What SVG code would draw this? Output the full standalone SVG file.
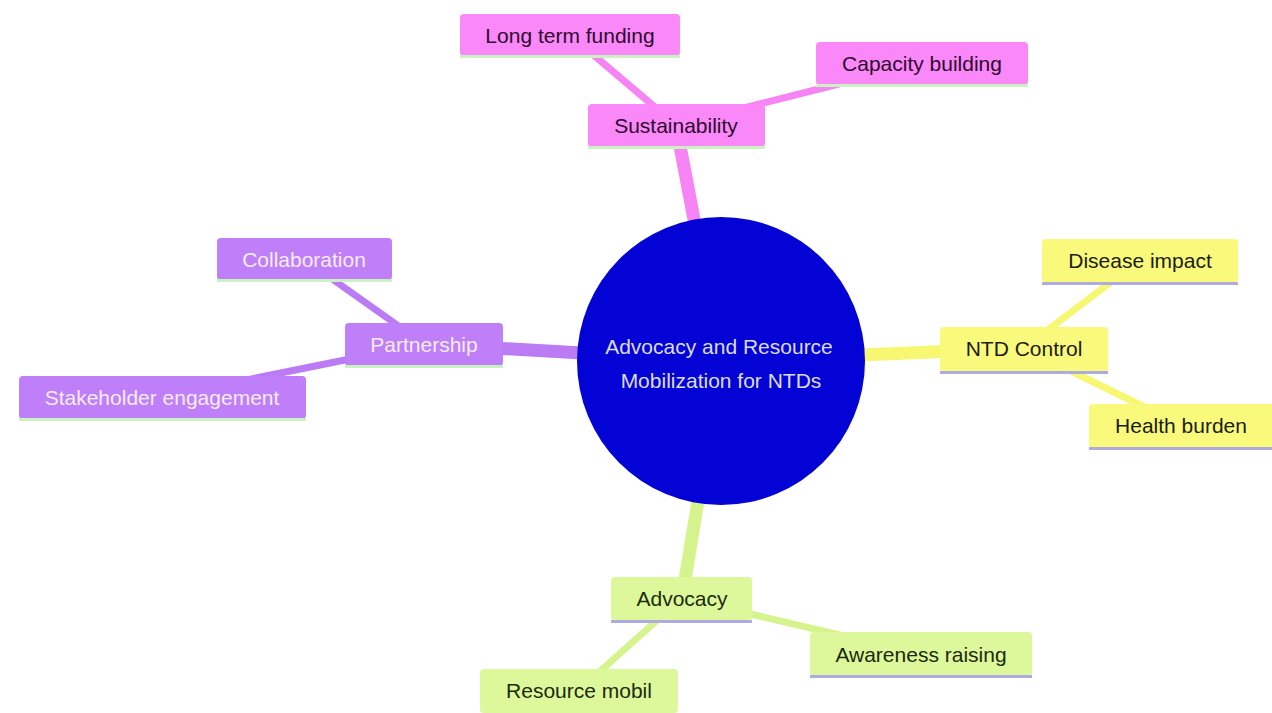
<svg xmlns="http://www.w3.org/2000/svg" width="1272" height="713" viewBox="0 0 1272 713">
<style>
text{font-family:"Liberation Sans",Arial,sans-serif;font-size:21px;text-anchor:middle;dominant-baseline:central}
.e0{stroke-width:13;stroke-linecap:butt;fill:none}
.e1{stroke-width:7;stroke-linecap:butt;fill:none}
.pk{fill:#fa88f8}.pkl{stroke:#f684f4}.pkt{fill:#2e0a2e}
.pu{fill:#bf7ff9}.pul{stroke:#bb7bf5}.put{fill:#f6ecf8}
.ye{fill:#f9f97c}.yel{stroke:#f7f772}.yet{fill:#1c1c10}
.li{fill:#dcf89a}.lil{stroke:#d6f48e}.lit{fill:#1c2a0c}
.bg{fill:#c8f2c0}.bl{fill:#aeaae2}
</style>
<rect width="1272" height="713" fill="#ffffff"/>
<g id="connectors">
<line class="e0 pkl" x1="721" y1="361" x2="676" y2="125"/>
<line class="e0 pul" x1="721" y1="361" x2="424" y2="344"/>
<line class="e0 yel" x1="721" y1="361" x2="1024" y2="348"/>
<line class="e0 lil" x1="721" y1="361" x2="682" y2="598"/>
<line class="e1 pkl" x1="676" y1="125" x2="570" y2="35"/>
<line class="e1 pkl" x1="676" y1="125" x2="922" y2="63"/>
<line class="e1 pul" x1="424" y1="344" x2="304" y2="259"/>
<line class="e1 pul" x1="424" y1="344" x2="162" y2="397"/>
<line class="e1 yel" x1="1024" y1="348" x2="1140" y2="260"/>
<line class="e1 yel" x1="1024" y1="348" x2="1181" y2="425"/>
<line class="e1 lil" x1="682" y1="598" x2="921" y2="654"/>
<line class="e1 lil" x1="682" y1="598" x2="579" y2="690"/>
</g>
<g id="root">
<circle cx="721" cy="361" r="144" fill="#0303d6"/>
<text x="719" y="346" fill="#dcdcf4">Advocacy and Resource</text>
<text x="721" y="380" fill="#dcdcf4">Mobilization for NTDs</text>
</g>
<g id="sustainability">
<rect class="pk" x="588" y="104" width="177" height="43" rx="4"/>
<rect class="bg" x="588" y="146" width="177" height="3"/>
<text class="pkt" x="676" y="125">Sustainability</text>
</g>
<g id="long-term-funding">
<rect class="pk" x="460" y="14" width="220" height="42" rx="4"/>
<rect class="bg" x="460" y="55" width="220" height="3"/>
<text class="pkt" x="570" y="35">Long term funding</text>
</g>
<g id="capacity-building">
<rect class="pk" x="816" y="42" width="212" height="43" rx="4"/>
<rect class="bg" x="816" y="84" width="212" height="3"/>
<text class="pkt" x="922" y="63">Capacity building</text>
</g>
<g id="partnership">
<rect class="pu" x="345" y="323" width="158" height="43" rx="4"/>
<rect class="bg" x="345" y="365" width="158" height="3"/>
<text class="put" x="424" y="344">Partnership</text>
</g>
<g id="collaboration">
<rect class="pu" x="217" y="238" width="175" height="42" rx="4"/>
<rect class="bg" x="217" y="279" width="175" height="3"/>
<text class="put" x="304" y="259">Collaboration</text>
</g>
<g id="stakeholder-engagement">
<rect class="pu" x="19" y="376" width="287" height="43" rx="4"/>
<rect class="bg" x="19" y="418" width="287" height="3"/>
<text class="put" x="162" y="397">Stakeholder engagement</text>
</g>
<g id="ntd-control">
<rect class="ye" x="940" y="327" width="168" height="45" rx="4"/>
<rect class="bl" x="940" y="371" width="168" height="3"/>
<text class="yet" x="1024" y="348">NTD Control</text>
</g>
<g id="disease-impact">
<rect class="ye" x="1042" y="239" width="196" height="44" rx="4"/>
<rect class="bl" x="1042" y="282" width="196" height="3"/>
<text class="yet" x="1140" y="260">Disease impact</text>
</g>
<g id="health-burden">
<rect class="ye" x="1089" y="404" width="186" height="44" rx="4"/>
<rect class="bl" x="1089" y="447" width="186" height="3"/>
<text class="yet" x="1181" y="425">Health burden</text>
</g>
<g id="advocacy">
<rect class="li" x="611" y="577" width="141" height="44" rx="4"/>
<rect class="bl" x="611" y="620" width="141" height="3"/>
<text class="lit" x="682" y="598">Advocacy</text>
</g>
<g id="awareness-raising">
<rect class="li" x="810" y="632" width="222" height="44" rx="4"/>
<rect class="bl" x="810" y="675" width="222" height="3"/>
<text class="lit" x="921" y="654">Awareness raising</text>
</g>
<g id="resource-mobil">
<rect class="li" x="480" y="669" width="198" height="44" rx="4"/>
<text class="lit" x="579" y="690">Resource mobil</text>
</g>
</svg>
